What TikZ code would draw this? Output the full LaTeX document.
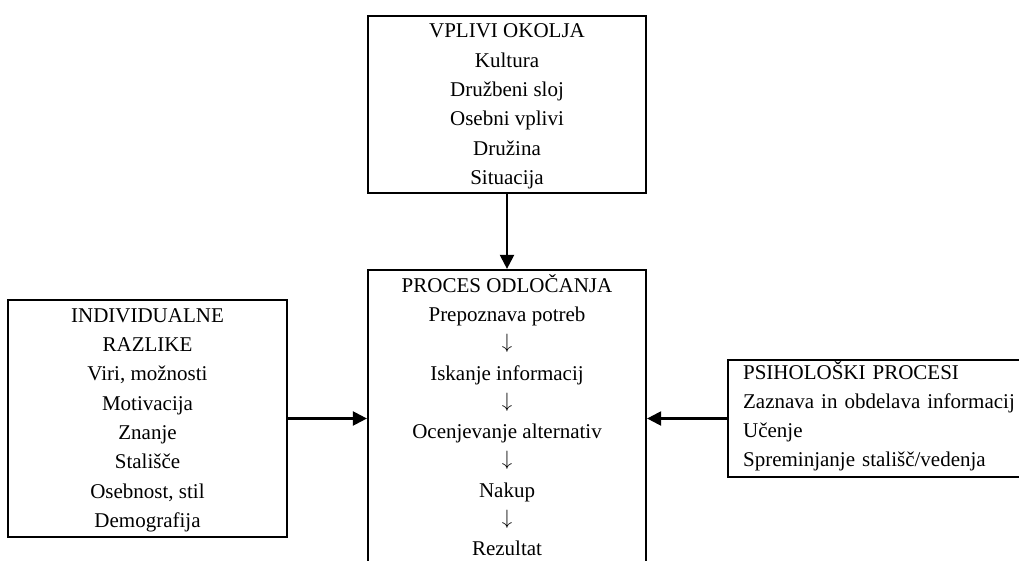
\documentclass[tikz,border=0pt]{standalone}
\usepackage{fontspec}
\setmainfont{Liberation Serif}
\usetikzlibrary{arrows.meta, positioning}
% invisible rules that fix the first line height and the last line depth
\newcommand{\vrh}[1]{\rule{0pt}{#1}}
\newcommand{\dno}[1]{\rule[-#1]{0pt}{#1}}
\newcommand{\dol}{\raisebox{2pt}{$\downarrow$}}

\begin{document}
\begin{tikzpicture}[x=1pt, y=-1pt,
    box/.style={draw, line width=2.2pt, align=center, inner sep=0pt,
      font={\fontsize{21pt}{29.3pt}\selectfont}},
    arr/.style={-{Triangle[length=14pt, width=14pt]}, line width=2.2pt}]
      \useasboundingbox (0,0) rectangle (1019,561);

      \node[box, minimum width=278pt, minimum height=177pt] (okolje) at (507,104.5) {\vrh{22pt}VPLIVI OKOLJA\\ Kultura\\ Družbeni sloj\\ Osebni vplivi\\ Družina\\ Situacija\dno{8.5pt}};
      \node[box, minimum width=278pt, minimum height=295pt] (odlocanje) at (507,417.5) {\vrh{22pt}PROCES ODLOČANJA\\ Prepoznava potreb\\ \dol\\ Iskanje informacij\\ \dol\\ Ocenjevanje alternativ\\ \dol\\ Nakup\\ \dol\\ Rezultat\dno{9pt}};
      \node[box, minimum width=279pt, minimum height=237pt] (razlike) at (147.5,418.5) {\vrh{22pt}INDIVIDUALNE\\ RAZLIKE\\ Viri, možnosti\\ Motivacija\\ Znanje\\ Stališče\\ Osebnost, stil\\ Demografija\dno{9.5pt}};
      \node[box, align=left, text width=290pt, inner xsep=15pt, minimum height=117pt, anchor=west] (procesi) at (727,418.5) {\vrh{19pt}PSIHOLOŠKI PROCESI\\ Zaznava in obdelava informacij\\ Učenje\\ Spreminjanje stališč/vedenja\dno{10pt}};

      \draw[arr] (okolje) -- (odlocanje);
      \draw[arr] (razlike.east) -- (razlike.east -| odlocanje.west);
      \draw[arr] (procesi.west) -- (procesi.west -| odlocanje.east);
    \end{tikzpicture}
\end{document}
